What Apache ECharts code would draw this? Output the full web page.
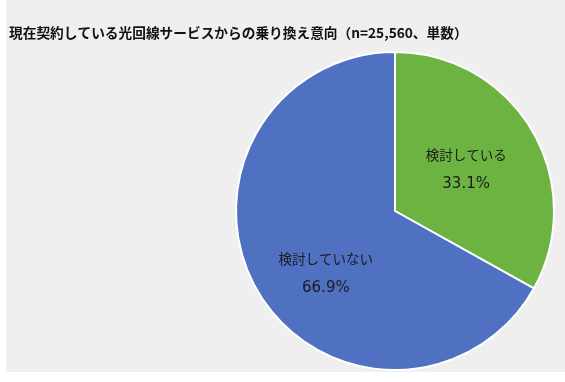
<!DOCTYPE html>
<html><head><meta charset="utf-8">
<script src="https://cdn.jsdelivr.net/npm/echarts@6/dist/echarts.min.js"></script>
<style>html,body{margin:0;padding:0;background:#fff;}#c{width:565px;height:382px;}</style>
</head><body><div id="c"></div>
<script>
const titleText = '現在契約している光回線サービスからの乗り換え意向（n=25,560、単数）';
const categories = ['検討している', '検討していない'];
const values = [33.1, 66.9];
const colors = ['#6db342', '#5070c2'];
const labelOffsets = [[0, 0], [2, 21]];

const chart = echarts.init(document.getElementById('c'), null, {renderer: 'canvas'});
chart.setOption({
  animation: false,
  backgroundColor: '#ffffff',
  graphic: [{
    type: 'rect', z: -10, silent: true,
    shape: {x: 6, y: 0, width: 559, height: 372},
    style: {fill: '#efefef'}
  }],
  title: {
    text: titleText, left: 4, top: 21,
    textStyle: {fontFamily: 'Noto Sans CJK JP', fontSize: 13.7, fontWeight: 'bold', color: '#111'}
  },
  series: [{
    type: 'pie',
    center: [395, 211],
    radius: [0, 159],
    startAngle: 90,
    clockwise: true,
    data: categories.map((n, i) => ({
      name: n, value: values[i],
      itemStyle: {color: colors[i]},
      label: {offset: labelOffsets[i]}
    })),
    itemStyle: {borderColor: '#ffffff', borderWidth: 2},
    label: {
      show: true, position: 'inside',
      formatter: p => '{n|' + p.name + '}\n{v|' + p.value.toFixed(1) + '%}',
      rich: {
        n: {fontFamily: 'Noto Sans CJK JP', fontSize: 13.5, color: '#1a1a1a', lineHeight: 29, align: 'center'},
        v: {fontFamily: 'DejaVu Sans', fontSize: 15, color: '#1a1a1a', lineHeight: 29, align: 'center'}
      }
    },
    labelLine: {show: false},
    emphasis: {disabled: true}
  }]
});
</script></body></html>
